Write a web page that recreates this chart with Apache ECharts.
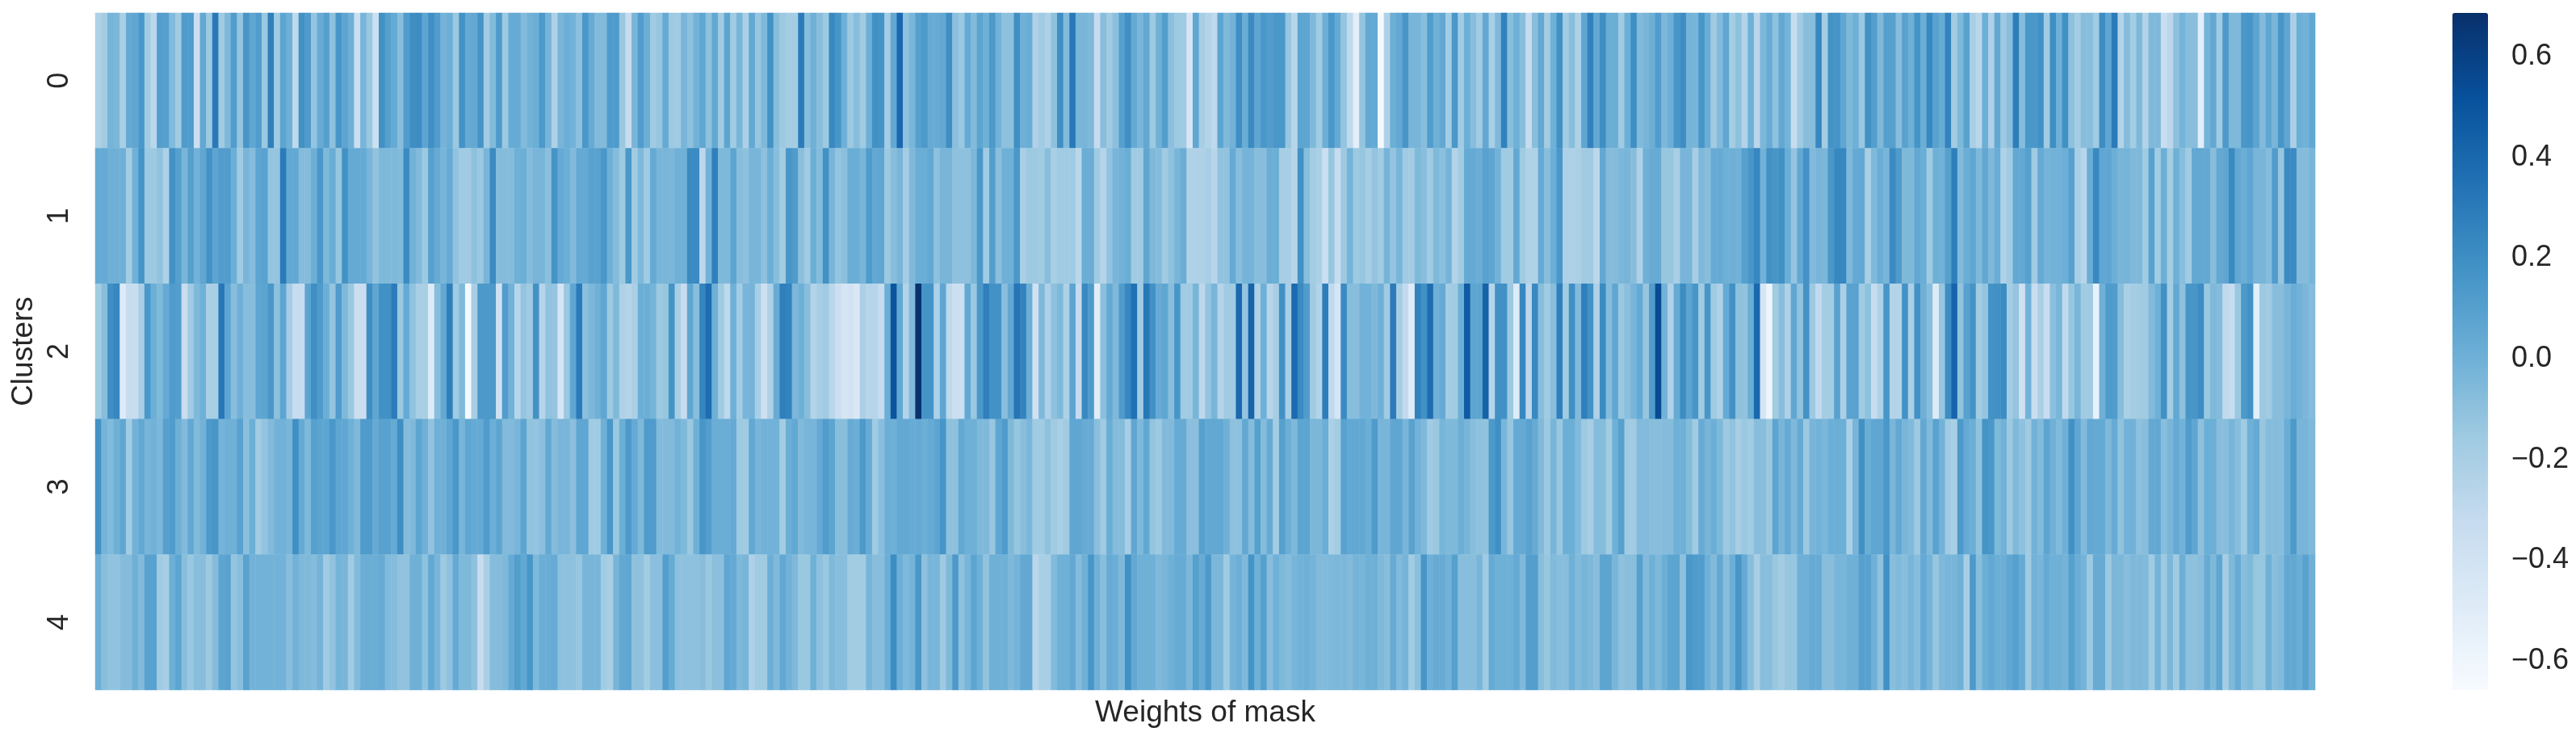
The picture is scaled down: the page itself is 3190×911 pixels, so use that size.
<!DOCTYPE html>
<html>
<head>
<meta charset="utf-8">
<title>Weights of mask</title>
<style>
    html, body { margin: 0; padding: 0; background: #fff; }
    #mask_heatmap { width: 3190px; height: 911px; }
</style>
<script src="https://cdn.jsdelivr.net/npm/echarts@6/dist/echarts.min.js"></script>
</head>
<body>
<div id="mask_heatmap"></div>
<script>
    // values, ten per line, 360 columns per cluster
    var clusters = ['0', '1', '2', '3', '4'];
    var cluster0 = [
        -.22,-.17,-.02,-.04,-.2,.04,.06,.15,-.17,-.28,
        .11,.1,-.06,-.16,.13,.12,-.36,.05,-.15,.31,
        -.16,-.05,.12,-.12,.16,.06,.12,-.14,.28,-.16,
        .07,0,-.29,.19,.13,-.12,.03,.1,-.1,.16,
        .07,0,-.36,-.03,-.14,-.37,.19,.1,.04,-.08,
        .12,.2,.21,.07,.2,.12,-.02,.01,-.14,.18,
        .04,.05,.17,-.17,-.06,.13,-.15,.03,.03,-.06,
        -.01,.01,.14,-.02,-.22,-.03,.01,-.01,-.1,.15,
        .03,-.06,-.06,.13,.13,-.14,-.33,-.03,.12,.01,
        -.16,-.13,.04,-.15,-.16,-.03,-.1,-.01,.06,-.1,
        .05,-.16,.07,-.16,-.03,-.21,.05,-.13,-.05,.18,
        -.08,-.15,-.18,-.18,.3,-.08,0,-.08,-.15,.23,
        .16,0,-.15,-.08,-.16,0,.19,.17,-.18,.05,
        .4,-.1,-.03,.1,.14,.03,.03,.05,.2,-.09,
        -.14,.04,-.06,.07,0,.14,-.01,-.1,-.1,.2,
        0,.02,-.22,-.16,-.22,-.1,.2,-.06,.31,-.03,
        -.03,-.05,-.32,-.08,-.16,-.09,.1,.2,.04,-.03,
        .05,-.15,0,.11,-.09,-.15,-.16,-.44,.06,-.19,
        -.24,-.29,.07,-.05,-.01,.2,.02,.22,.06,.15,
        .12,.15,.15,-.13,-.26,.07,.07,-.05,-.16,.01,
        .15,.04,-.12,-.3,-.52,-.12,.05,.04,-.64,-.22,
        .01,.05,.16,-.03,-.03,-.08,.12,0,.05,-.18,
        .15,-.16,.01,-.08,-.16,.05,-.2,-.05,.27,-.08,
        0,-.08,-.33,-.08,.05,-.18,0,.19,-.17,-.08,
        -.22,.06,.27,.05,.2,.02,.02,-.16,.01,.2,
        -.06,-.03,.01,.12,-.04,.01,.16,.21,-.02,-.03,
        .16,.02,-.16,-.06,.06,-.18,-.1,-.24,0,-.27,
        -.04,.03,-.1,.05,-.02,-.33,-.16,-.08,-.08,.24,
        -.18,.18,.17,.06,-.05,0,-.14,.19,.11,-.05,
        .1,.1,-.08,.09,0,.17,.02,.23,.09,.03,
        .26,-.17,-.05,.09,-.2,-.27,.01,-.22,.05,-.15,
        -.08,.29,-.07,.15,.15,.19,-.16,.2,0,.19,
        -.1,-.18,-.08,-.08,-.16,.21,.06,.3,-.24,-.07,
        -.18,-.05,-.24,-.05,-.05,-.35,-.28,-.1,-.02,-.08,
        -.08,-.52,-.02,.05,-.16,.14,-.05,-.05,.15,.16,
        .07,-.06,.06,-.03,.16,.06,-.21,.01,-.01,.05
    ];
    var cluster1 = [
        .03,.04,0,0,0,-.18,0,.17,-.15,-.15,
        -.11,-.22,.18,.1,-.03,.1,-.01,.06,.18,.07,
        .12,.12,.01,-.16,-.03,-.07,.07,.09,-.12,-.12,
        .3,.05,.05,-.07,-.07,.01,.15,-.05,.02,-.13,
        .18,.04,.04,.04,-.03,-.11,-.05,-.05,-.05,-.06,
        .22,-.01,-.06,-.15,.1,.03,-.03,.03,-.11,-.16,
        -.16,-.1,-.14,-.03,.22,-.07,-.07,-.07,0,.01,
        -.07,-.03,-.03,-.09,.17,.04,.01,-.06,.04,.04,
        .09,.09,.15,0,-.07,-.15,.15,-.16,-.05,-.16,
        .04,-.03,-.03,-.04,0,0,.22,.22,-.28,-.01,
        .28,-.05,-.05,.07,-.08,-.1,-.03,-.03,-.1,.01,
        -.08,-.17,.16,.13,-.09,-.16,.01,-.07,.19,-.03,
        -.12,-.09,.02,.02,-.03,.13,.05,.06,-.15,-.08,
        -.03,-.18,-.05,.02,.02,.05,-.1,-.03,-.03,-.1,
        -.1,-.1,-.04,.15,-.16,.11,-.09,0,0,.15,
        -.2,-.15,-.15,-.16,-.08,-.2,-.16,-.16,-.16,-.27,
        .02,.02,-.16,-.25,-.11,-.03,-.01,.02,-.16,-.16,
        .06,-.05,-.07,-.16,-.1,-.03,.02,-.23,-.23,-.22,
        -.19,-.26,-.11,-.11,.04,-.08,-.02,-.02,-.08,-.08,
        .02,.01,-.19,-.19,-.26,.19,-.08,-.18,-.21,-.36,
        -.13,-.33,-.15,-.02,-.15,-.13,-.19,-.12,-.17,-.02,
        -.12,-.03,-.16,-.17,-.05,-.08,-.16,-.05,-.09,-.02,
        -.24,-.17,.04,.04,.02,.09,.06,-.01,-.16,-.16,
        .05,-.16,-.23,-.23,.04,-.08,.01,.15,-.22,-.22,
        -.21,-.16,-.16,-.28,.05,-.07,-.07,-.04,-.03,-.08,
        -.22,0,.03,.03,-.13,-.13,-.2,-.03,-.03,-.19,
        -.05,-.08,.03,.03,0,0,-.01,.1,.16,.24,
        -.01,.18,.16,.19,.02,-.12,.05,.18,-.06,-.03,
        -.04,.15,.24,.24,-.05,.04,.05,-.2,-.05,.02,
        -.03,.22,.13,-.05,-.05,.05,.02,-.16,0,-.01,
        .1,.28,-.06,.02,.06,-.05,.05,-.05,.02,-.22,
        -.16,.05,.05,.1,-.16,.04,-.02,-.01,-.01,.01,
        .1,-.19,-.26,.02,.23,.06,.06,.01,-.03,-.02,
        -.05,-.05,-.16,.09,-.17,.01,-.18,0,-.08,-.16,
        .05,.05,.05,-.08,.05,.06,.22,.05,.02,.06,
        -.03,-.03,-.07,.12,-.13,.22,.22,-.07,-.07,-.03
    ];
    var cluster2 = [
        -.17,-.08,.2,.24,-.49,-.33,-.34,-.2,.15,.01,
        -.05,.04,.13,.11,-.34,-.16,-.05,0,-.2,-.2,
        .32,.07,-.08,0,-.08,-.08,.06,.07,.15,-.1,
        .07,-.18,-.33,-.33,.07,.2,.13,.01,-.12,.13,
        -.05,-.14,-.35,-.35,.2,.06,.19,.19,.3,-.14,
        .04,-.11,-.2,-.2,-.49,-.08,.05,.28,-.16,-.05,
        -.64,-.19,.14,.14,.14,-.39,.12,-.01,-.26,-.12,
        -.16,.18,-.26,-.11,-.12,-.43,-.14,.06,.3,-.09,
        -.04,0,.06,-.15,-.05,-.22,-.25,-.21,.01,.01,
        -.02,-.15,-.13,.17,-.2,-.33,.06,-.08,.25,.37,
        0,-.16,-.29,0,-.18,-.03,-.02,-.2,-.37,-.22,
        .03,.28,.26,-.04,0,-.08,-.24,-.19,-.16,-.27,
        -.36,-.43,-.41,-.46,-.21,-.26,-.26,-.33,.01,.5,
        .05,-.24,-.06,.68,.17,.17,-.22,.06,-.29,-.36,
        -.36,.05,-.14,.15,.28,.18,.18,-.08,.05,.33,
        .26,.01,-.39,-.05,-.22,-.1,-.05,-.22,.07,-.32,
        .23,.13,-.52,-.09,.04,-.05,.13,.24,.35,-.16,
        .32,.19,.03,.06,-.08,.16,-.16,-.16,-.03,-.28,
        -.12,-.03,-.25,-.16,-.16,.4,-.12,.42,-.22,0,
        -.26,-.19,.19,-.2,.39,.22,.12,-.16,-.24,.29,
        -.3,-.43,.22,-.08,-.08,-.01,-.01,-.05,0,-.16,
        .3,-.18,-.31,-.49,.27,.19,.37,0,.04,-.18,
        -.16,.01,.47,.07,.07,.43,-.26,.19,.19,-.15,
        -.49,.24,-.28,.23,-.08,-.16,-.08,.28,-.16,.2,
        -.06,.28,.18,-.22,.22,-.07,.06,-.14,-.09,-.03,
        .04,-.13,.13,.55,-.01,-.23,.04,.21,.07,.16,
        -.16,.16,-.16,-.22,.04,.19,-.1,-.11,.02,.4,
        -.43,-.6,-.16,-.08,-.22,.06,-.11,.18,-.15,-.31,
        -.18,-.18,.09,-.21,.09,.09,-.16,-.1,-.33,-.22,
        .16,-.24,-.24,.18,-.21,.18,0,-.08,-.49,-.13,
        .21,.42,-.11,.09,.17,-.17,-.12,.18,.19,.21,
        -.18,-.12,-.39,-.01,-.34,-.21,-.34,-.09,-.03,-.3,
        -.13,-.03,-.16,-.16,-.56,0,.13,.12,-.08,-.21,
        -.18,-.17,-.16,-.06,0,.19,-.18,.05,-.1,.16,
        .16,.21,-.14,-.05,-.07,-.3,-.33,-.14,.14,.18,
        -.52,-.15,-.16,-.08,-.08,-.03,.02,-.01,-.04,-.07
    ];
    var cluster3 = [
        .18,-.02,-.06,0,.06,-.17,-.01,.05,-.03,-.01,
        -.04,.1,.12,0,-.06,.05,-.06,-.01,.14,.16,
        -.02,0,0,.09,-.09,.01,-.17,-.12,-.06,-.01,
        -.01,-.03,.2,.04,-.05,.1,.07,.07,.15,.06,
        .06,0,-.05,.13,.13,.03,.09,.09,.04,.2,
        -.07,-.05,.07,0,-.11,0,0,.06,.15,-.03,
        .06,.04,.04,.12,.01,.07,-.06,-.06,-.03,.07,
        -.11,-.12,-.09,.05,-.07,-.03,-.03,-.09,.06,.06,
        -.16,-.16,0,.15,-.14,.01,.14,.04,-.05,.13,
        .13,-.06,-.06,-.06,-.01,-.05,-.14,0,.16,.11,
        .02,.02,.02,.04,-.15,-.16,.05,-.03,-.01,-.01,
        -.01,-.18,.01,.05,-.06,-.03,-.03,.04,.12,.07,
        -.08,-.08,.03,.01,.14,.03,-.16,-.08,.01,0,
        .05,.05,.03,.04,.01,.04,.07,.16,-.1,-.1,
        .05,0,0,-.05,-.05,-.13,.06,.13,-.05,-.13,
        -.08,-.04,-.16,-.16,-.1,-.16,-.2,-.16,.06,.06,
        .03,.03,-.09,-.16,.02,-.07,-.07,-.19,.06,-.05,
        .05,-.12,-.15,-.06,-.06,.03,.03,-.09,-.09,.1,
        .05,.05,.05,0,-.1,-.1,.05,-.07,.1,-.07,
        .03,-.18,.1,.01,-.05,.07,.07,-.04,-.04,.02,
        -.21,-.17,.09,.05,.05,.05,.01,.13,-.03,-.03,
        .06,.06,-.03,.09,-.01,-.05,-.16,-.14,-.03,-.05,
        -.05,.01,-.03,-.08,-.1,-.11,.14,.2,-.03,-.13,
        .04,.04,.09,.03,-.06,-.15,-.03,-.14,.01,.01,
        -.06,-.15,-.19,-.07,-.07,-.17,0,.1,-.16,-.16,
        -.06,-.06,-.08,-.08,-.07,-.07,0,0,-.07,-.16,
        .03,-.03,.01,-.05,-.15,-.11,-.19,-.14,-.17,-.08,
        -.08,-.14,.07,-.03,.04,-.05,.04,-.15,-.03,-.01,
        -.04,.01,.01,.01,-.21,-.03,.19,.01,.06,.06,
        .15,-.03,.05,-.03,-.06,-.15,.05,-.06,.09,-.01,
        -.16,-.2,.14,.04,.01,-.11,.17,.15,-.05,-.01,
        -.15,-.05,-.1,-.16,-.01,-.06,.07,0,-.06,0,
        .19,.06,-.06,.05,.04,.04,-.05,.03,-.11,-.01,
        -.01,-.1,-.08,.05,.05,-.08,-.03,.04,-.01,.13,
        .06,-.1,.01,.01,-.08,-.08,-.03,-.08,-.16,0,
        .04,-.13,-.07,-.07,-.08,.02,.14,-.03,-.03,-.05
    ];
    var cluster4 = [
        .01,-.08,-.11,-.11,-.07,-.07,0,-.06,.09,.09,
        -.16,-.19,.01,.07,-.08,-.14,-.08,-.08,-.15,-.07,
        .07,.09,-.12,-.08,.09,-.01,-.01,-.01,-.01,-.01,
        -.01,-.08,-.01,-.05,-.05,-.07,-.02,-.16,-.11,-.02,
        -.03,-.16,-.06,.02,.02,.02,.03,-.06,-.07,-.11,
        -.11,0,0,-.1,.05,-.03,-.15,-.1,.04,-.05,
        -.05,-.1,-.33,-.2,-.07,-.07,-.05,.04,.11,.05,
        .16,-.05,.02,.02,.03,-.1,-.1,-.1,-.13,-.03,
        -.03,-.03,-.17,-.2,-.03,.05,.06,-.1,-.1,-.17,
        -.09,-.09,.11,.03,-.1,-.1,-.1,-.1,-.08,-.14,
        -.09,-.09,.06,.04,-.05,-.03,-.22,-.16,-.16,.01,
        -.05,.05,-.01,-.05,-.14,-.14,0,-.1,-.14,-.05,
        -.08,-.08,-.17,-.17,-.17,-.03,-.08,-.08,.01,.21,
        .01,-.05,-.02,.15,-.1,-.03,-.03,-.15,-.05,.14,
        -.1,-.03,.07,0,-.11,0,0,0,-.05,-.02,
        .05,.05,-.27,-.2,-.2,-.06,0,0,.05,-.07,
        0,.16,0,-.08,.03,.01,-.05,.19,.05,0,
        0,0,-.05,-.03,0,.03,.03,-.04,.1,.03,
        .14,-.04,-.04,-.16,-.02,.01,-.05,.17,0,.1,
        -.08,0,-.05,-.07,-.03,-.01,0,-.02,-.06,-.06,
        -.05,-.04,-.04,-.06,-.02,-.03,0,0,-.05,-.08,
        .03,-.06,-.02,-.17,-.09,.16,0,.03,.03,-.01,
        .1,-.08,-.08,-.08,-.03,-.16,.04,0,0,0,
        .04,-.05,.11,.11,-.08,-.13,-.06,-.08,-.08,0,
        -.06,-.03,-.05,-.08,.07,.07,-.03,-.1,-.08,-.08,
        .1,-.06,0,-.05,.01,.07,.07,-.1,.15,.13,
        .12,0,-.06,.05,-.08,.01,.16,.04,-.08,-.2,
        -.08,-.08,-.14,-.17,-.13,-.13,0,0,.04,.03,
        -.08,-.08,-.03,-.03,0,0,.1,.09,0,-.1,
        .19,-.08,-.06,-.08,-.03,-.08,.04,-.02,-.13,-.05,
        -.03,-.03,0,-.19,.14,-.08,.01,.05,.01,.01,
        .06,.1,.04,-.16,-.01,-.03,.04,0,0,-.02,
        .1,.02,-.02,-.15,.03,.03,-.15,-.04,-.04,-.08,
        -.05,-.05,-.06,-.16,-.02,-.15,-.04,-.16,.01,-.1,
        -.1,-.08,.03,-.05,.06,-.18,-.05,.03,-.08,-.05,
        -.13,-.13,0,-.08,-.06,.05,.05,.02,.09,0
    ];
    var colorbarTicks = [-0.6, -0.4, -0.2, 0, 0.2, 0.4, 0.6];
    var blues = ['#f7fbff', '#deebf7', '#c6dbef', '#9ecae1', '#6baed6', '#4292c6', '#2171b5', '#08519c', '#08306b'];

    var rows = [cluster0, cluster1, cluster2, cluster3, cluster4];
    var columns = [];
    var cells = [];
    for (var c = 0; c < cluster0.length; c++) {
        columns.push(String(c));
    }
    for (var r = 0; r < rows.length; r++) {
        for (var i = 0; i < rows[r].length; i++) {
            cells.push([i, r, rows[r][i]]);
        }
    }

    var textColor = '#262626';
    var fontFamily = '"Liberation Sans", Arial, sans-serif';
    var chart = echarts.init(document.getElementById('mask_heatmap'));
    chart.setOption({
        animation: false,
        backgroundColor: '#ffffff',
        textStyle: { fontFamily: fontFamily, color: textColor },
        grid: [
            { left: 118, top: 16, width: 2749, height: 838, outerBoundsMode: 'none' },
            { left: 3037, top: 16, width: 44, height: 838, outerBoundsMode: 'none' }
        ],
        xAxis: [
            {
                type: 'category',
                data: columns,
                name: 'Weights of mask',
                nameLocation: 'middle',
                nameGap: 10,
                nameTextStyle: { fontSize: 37, color: textColor, fontFamily: fontFamily },
                axisLine: { show: false },
                axisTick: { show: false },
                axisLabel: { show: false },
                splitLine: { show: false },
                splitArea: { show: false }
            },
            { type: 'value', gridIndex: 1, show: false }
        ],
        yAxis: [
            {
                type: 'category',
                data: clusters,
                inverse: true,
                name: 'Clusters',
                nameLocation: 'middle',
                nameGap: 70,
                nameTextStyle: { fontSize: 37, color: textColor, fontFamily: fontFamily },
                axisLine: { show: false },
                axisTick: { show: false },
                axisLabel: { rotate: 90, fontSize: 36, color: textColor, margin: 26, fontFamily: fontFamily },
                splitLine: { show: false },
                splitArea: { show: false }
            },
            {
                type: 'value',
                gridIndex: 1,
                position: 'right',
                min: -0.658,
                max: 0.687,
                axisLine: { show: false },
                splitLine: { show: false },
                axisTick: {
                    customValues: colorbarTicks,
                    length: 18,
                    lineStyle: { color: textColor, width: 4 }
                },
                axisLabel: {
                    customValues: colorbarTicks,
                    fontSize: 36,
                    margin: 29,
                    align: 'left',
                    color: textColor,
                    fontFamily: fontFamily,
                    formatter: function (v) {
                        return v.toFixed(1).replace('-', '\u2212');
                    }
                }
            }
        ],
        visualMap: {
            type: 'continuous',
            seriesIndex: 0,
            min: -0.658,
            max: 0.687,
            calculable: false,
            hoverLink: false,
            orient: 'vertical',
            left: 3037,
            top: 16,
            padding: 0,
            itemWidth: 44,
            itemHeight: 838,
            inRange: { color: blues }
        },
        series: [{
            type: 'heatmap',
            xAxisIndex: 0,
            yAxisIndex: 0,
            data: cells,
            progressive: 0,
            itemStyle: { borderWidth: 0 },
            emphasis: { disabled: true }
        }]
    });
</script>
</body>
</html>
